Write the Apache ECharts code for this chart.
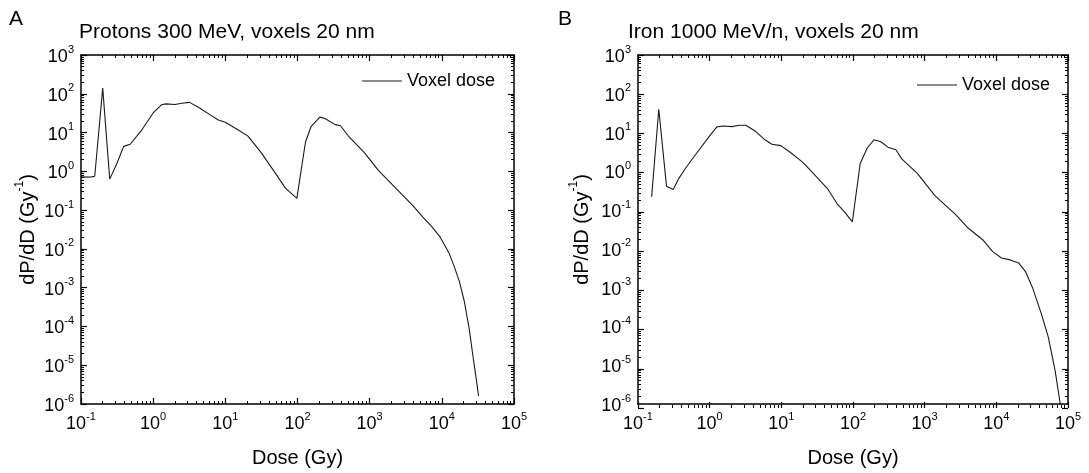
<!DOCTYPE html>
<html>
<head>
<meta charset="utf-8">
<title>Voxel dose</title>
<script src="https://cdn.jsdelivr.net/npm/echarts@6/dist/echarts.min.js"></script>
<style>
  html, body { margin: 0; padding: 0; background: #fff; }
  #chart { width: 1089px; height: 473px; }
</style>
</head>
<body>
<div id="chart"></div>
<script>
// panel titles
var panelLetters = ["A", "B"];
var panelTitles = ["Protons 300 MeV, voxels 20 nm", "Iron 1000 MeV/n, voxels 20 nm"];
var seriesName = "Voxel dose";

// Dose (Gy)
var protonDose = [0.1, 0.12, 0.14, 0.155, 0.2, 0.25, 0.31, 0.39, 0.48, 0.51, 0.68, 1.0, 1.3, 1.5, 2.0, 2.5,
  3.2, 4.4, 6.1, 8.0, 10, 14.7, 20.6, 31.6, 49, 68, 98, 129, 155, 204, 240, 333, 395, 515, 850, 1320,
  3970, 5500, 7200, 9500, 12500, 14700, 17400, 20400, 24000, 27000, 30000, 32300];
// dP/dD (Gy^-1)
var protonProb = [0.72, 0.71, 0.72, 0.75, 140, 0.63, 1.5, 4.4, 5.0, 5.4, 11, 32, 52, 55, 53, 57,
  60, 43, 29, 21, 18.5, 12, 8.1, 3.0, 0.91, 0.37, 0.2, 5.7, 14.5, 25, 23, 16, 15, 7.8, 3.0, 1.06,
  0.13, 0.065, 0.038, 0.02, 0.008, 0.0037, 0.0015, 4.6e-4, 8.5e-5, 1.7e-5, 4.4e-6, 1.6e-6];

var ironDose = [0.155, 0.195, 0.25, 0.31, 0.37, 0.46, 0.68, 1.0, 1.26, 1.55, 2.05, 2.6, 3.2, 4.3, 5.9,
  7.4, 9.8, 13, 20, 31, 44, 61, 76, 98, 126, 158, 196, 245, 307, 397, 479, 795, 1380, 2690, 4070,
  6500, 8900, 11800, 15600, 20600, 25500, 32000, 42500, 53000, 66000, 78000];
var ironProb = [0.22, 40, 0.41, 0.34, 0.65, 1.2, 3.2, 8.2, 14, 14.8, 14.2, 15.4, 15.4, 11, 6.5,
  5.0, 4.6, 3.2, 1.7, 0.72, 0.36, 0.14, 0.09, 0.05, 1.6, 4.0, 6.5, 5.8, 4.2, 3.6, 2.1, 0.87, 0.24, 0.078, 0.034,
  0.017, 0.0085, 0.0058, 0.0052, 0.0043, 0.0026, 0.001, 2.1e-4, 5.4e-5, 7.4e-6, 1e-6];

// axis ranges
var xRange = [0.1, 1e5];
var yRange = [1e-6, 1e3];

var chart = echarts.init(document.getElementById("chart"));
var font = "Liberation Sans, Arial, sans-serif";

function pairs(xs, ys) {
  var out = [];
  for (var i = 0; i < xs.length; i++) out.push([xs[i], ys[i]]);
  return out;
}

function powLabel(value) {
  var e = Math.round(Math.log10(value));
  return "{b|10}{s|" + e + "}";
}

function labelRich() {
  return {
    b: { fontSize: 18, fontFamily: font, color: "#000", lineHeight: 22, verticalAlign: "bottom" },
    s: { fontSize: 11, fontFamily: font, color: "#000", lineHeight: 12, verticalAlign: "top" }
  };
}

// frame side of a panel (line, optional labels)
function frameAxis(gi, range, position, withLabel) {
  return {
    gridIndex: gi, type: "log", min: range[0], max: range[1], position: position,
    axisLine: { show: true, onZero: false, lineStyle: { color: "#000", width: 1.5 } },
    axisTick: { show: false },
    minorTick: { show: false },
    axisLabel: withLabel ? { show: true, formatter: powLabel, rich: labelRich(), margin: 7 } : { show: false },
    splitLine: { show: false },
    minorSplitLine: { show: false },
    z: 5
  };
}

// tick marks: a thin strip along the inside of each frame side,
// the log axis split lines of the strip are the ticks
var tickLen = { major: 6, minor: 3 };

function stripBox(box, side, kind) {
  var len = tickLen[kind];
  if (side === "bottom") return { left: box.left, top: box.top + box.height - len, width: box.width, height: len };
  if (side === "top") return { left: box.left, top: box.top, width: box.width, height: len };
  if (side === "left") return { left: box.left, top: box.top, width: len, height: box.height };
  return { left: box.left + box.width - len, top: box.top, width: len, height: box.height };
}

function stripAxis(gi, range, kind) {
  return {
    gridIndex: gi, type: "log", min: range[0], max: range[1],
    axisLine: { show: false, onZero: false }, axisTick: { show: false }, axisLabel: { show: false },
    splitLine: { show: kind === "major", lineStyle: { color: "#000", width: 1.2 } },
    minorTick: { show: false, splitNumber: 9 },
    minorSplitLine: { show: kind === "minor", lineStyle: { color: "#000", width: 1 } }
  };
}

function dummyAxis(gi) {
  return { gridIndex: gi, type: "value", min: 0, max: 1, show: false };
}

var panels = [
  { left: 81, top: 55, width: 433, height: 349 },
  { left: 638, top: 55, width: 430, height: 353 }
];
var yNameGap = [43, 46];

var grids = [];
var xAxis = [];
var yAxis = [];
var series = [];

for (var g = 0; g < 2; g++) {
  var gi = grids.length;
  grids.push(panels[g]);

  var xb = frameAxis(gi, xRange, "bottom", true);
  xb.name = "Dose (Gy)";
  xb.nameLocation = "middle";
  xb.nameGap = 44;
  xb.nameTextStyle = { fontSize: 20, color: "#000", fontFamily: font };
  var xIndex = xAxis.length;
  xAxis.push(xb);
  xAxis.push(frameAxis(gi, xRange, "top", false));

  var yl = frameAxis(gi, yRange, "left", true);
  yl.name = "{n|dP/dD (Gy}{s|-1}{n|)}";
  yl.nameLocation = "middle";
  yl.nameGap = yNameGap[g];
  yl.nameRotate = 90;
  yl.nameTextStyle = {
    rich: {
      n: { fontSize: 20, fontFamily: font, color: "#000", lineHeight: 24, verticalAlign: "bottom" },
      s: { fontSize: 12, fontFamily: font, color: "#000", lineHeight: 12, verticalAlign: "top" }
    }
  };
  var yIndex = yAxis.length;
  yAxis.push(yl);
  yAxis.push(frameAxis(gi, yRange, "right", false));

  series.push({
    name: seriesName,
    type: "line",
    xAxisIndex: xIndex,
    yAxisIndex: yIndex,
    symbol: "none",
    showSymbol: false,
    smooth: false,
    lineStyle: { color: "#1a1a1a", width: 1.1 },
    itemStyle: { color: "#1a1a1a" },
    data: g === 0 ? pairs(protonDose, protonProb) : pairs(ironDose, ironProb)
  });

  ["bottom", "top", "left", "right"].forEach(function (side) {
    ["major", "minor"].forEach(function (kind) {
      var si = grids.length;
      grids.push(stripBox(panels[g], side, kind));
      if (side === "bottom" || side === "top") {
        xAxis.push(stripAxis(si, xRange, kind));
        yAxis.push(dummyAxis(si));
      } else {
        xAxis.push(dummyAxis(si));
        yAxis.push(stripAxis(si, yRange, kind));
      }
    });
  });
}

var legends = [
  {
    left: 362, top: 72, padding: 0, icon: "rect", itemWidth: 40, itemHeight: 1.2, data: [seriesName],
    textStyle: { fontSize: 18, color: "#000", fontFamily: font }, selectedMode: false
  },
  {
    left: 917, top: 76, padding: 0, icon: "rect", itemWidth: 40, itemHeight: 1.2, data: [seriesName],
    textStyle: { fontSize: 18, color: "#000", fontFamily: font }, selectedMode: false
  }
];

var titleStyle = { fontSize: 21, fontWeight: "normal", color: "#000", fontFamily: font };
var titles = [
  { text: panelLetters[0], left: 9, top: 9, padding: 0, textStyle: titleStyle },
  { text: panelTitles[0], left: 79, top: 22, padding: 0, textStyle: titleStyle },
  { text: panelLetters[1], left: 558, top: 9, padding: 0, textStyle: titleStyle },
  { text: panelTitles[1], left: 628, top: 22, padding: 0, textStyle: titleStyle }
];

var option = {
  backgroundColor: "#fff",
  animation: false,
  title: titles,
  legend: legends,
  grid: grids,
  xAxis: xAxis,
  yAxis: yAxis,
  series: series
};
chart.setOption(option);
</script>
</body>
</html>
